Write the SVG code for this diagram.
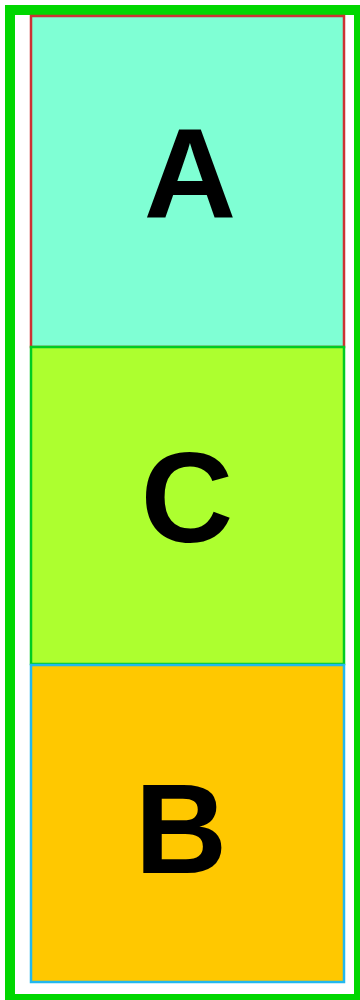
<svg xmlns="http://www.w3.org/2000/svg" width="360" height="1000" viewBox="0 0 360 1000">
<style>
.lbl{font-family:"Liberation Sans",Arial,sans-serif;font-weight:bold;font-size:128px;fill:#000;text-anchor:middle}
.box{stroke-width:2.5}
</style>
<rect x="0" y="0" width="360" height="1000" fill="#fff"/>
<g id="container">
<rect x="10" y="10" width="349" height="989" fill="none" stroke="#00d700" stroke-width="10"/>
</g>
<g id="nodeA">
<rect class="box" x="31" y="16" width="313" height="331" fill="#7fffd4" stroke="#cc3333"/>
<text class="lbl" x="190" y="218">A</text>
</g>
<g id="nodeC">
<rect class="box" x="31" y="347" width="313" height="317" fill="#adff2f" stroke="#00cc22"/>
<text class="lbl" x="187" y="542">C</text>
</g>
<g id="nodeB">
<rect class="box" x="31" y="665" width="313" height="317" fill="#ffc800" stroke="#22b8ee"/>
<text class="lbl" x="181" y="873">B</text>
</g>
<g id="connectors"/>
</svg>
